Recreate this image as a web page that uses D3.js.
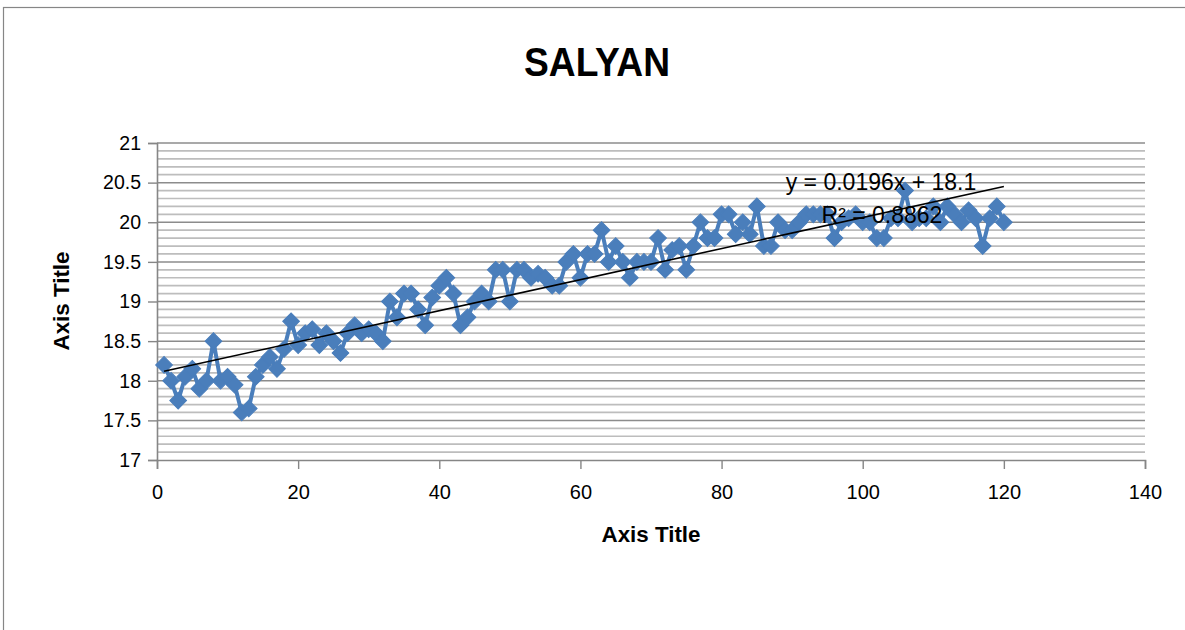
<!DOCTYPE html>
<html>
<head>
<meta charset="utf-8">
<script src="https://cdn.jsdelivr.net/npm/d3@7"></script>
<style>
  html, body { margin: 0; padding: 0; background: #fff; }
  svg { display: block; }
  text { font-family: "Liberation Sans", Arial, sans-serif; fill: #000; }
</style>
</head>
<body>
<svg id="chart" width="1185" height="630"></svg>
<script>
// ---- data ----
const chartTitle = "SALYAN";
const xAxisTitle = "Axis Title";
const yAxisTitle = "Axis Title";
const xTicks = [0, 20, 40, 60, 80, 100, 120, 140];
const yTicks = [17, 17.5, 18, 18.5, 19, 19.5, 20, 20.5, 21];
const xValues = [
  1,2,3,4,5,6,7,8,9,10,11,12,13,14,15,16,17,18,19,20,
  21,22,23,24,25,26,27,28,29,30,31,32,33,34,35,36,37,38,39,40,
  41,42,43,44,45,46,47,48,49,50,51,52,53,54,55,56,57,58,59,60,
  61,62,63,64,65,66,67,68,69,70,71,72,73,74,75,76,77,78,79,80,
  81,82,83,84,85,86,87,88,89,90,91,92,93,94,95,96,97,98,99,100,
  101,102,103,104,105,106,107,108,109,110,111,112,113,114,115,116,117,118,119,120
];
const yValues = [
  18.2,18.0,17.75,18.05,18.15,17.9,18.0,18.5,18.0,18.05,17.95,17.6,17.65,18.05,18.2,18.3,18.15,18.4,18.75,18.45,
  18.6,18.65,18.45,18.6,18.5,18.35,18.6,18.7,18.6,18.65,18.6,18.5,19.0,18.8,19.1,19.1,18.9,18.7,19.05,19.2,
  19.3,19.1,18.7,18.8,19.0,19.1,19.0,19.4,19.4,19.0,19.4,19.4,19.3,19.35,19.3,19.2,19.2,19.5,19.6,19.3,
  19.6,19.6,19.9,19.5,19.7,19.5,19.3,19.5,19.5,19.5,19.8,19.4,19.65,19.7,19.4,19.7,20.0,19.8,19.8,20.1,
  20.1,19.85,20.0,19.85,20.2,19.7,19.7,20.0,19.9,19.9,20.0,20.1,20.1,20.1,20.1,19.8,20.0,20.05,20.1,20.0,
  20.0,19.8,19.8,20.05,20.05,20.4,20.0,20.05,20.05,20.2,20.0,20.2,20.1,20.0,20.15,20.05,19.7,20.05,20.2,20.0
];
const trendSlope = 0.0196;
const trendIntercept = 18.1;
const trendLabel = "y = 0.0196x + 18.1";
const r2Label = "R\u00B2 = 0.8862";

// ---- layout ----
const svg = d3.select("#chart");
const plot = { left: 157, right: 1145, top: 143, bottom: 460 };

const x = d3.scaleLinear().domain([0, 140]).range([plot.left, plot.right]);
const y = d3.scaleLinear().domain([17, 21]).range([plot.bottom, plot.top]);

// chart area border
svg.append("rect")
  .attr("x", 3.5).attr("y", 7.5)
  .attr("width", 1300).attr("height", 800)
  .attr("fill", "#fff").attr("stroke", "#868686").attr("stroke-width", 1.2);

// minor gridlines every 0.1
const minorTicks = d3.range(170, 211).map(v => v / 10).filter(v => Math.abs(v * 2 - Math.round(v * 2)) > 1e-6);
svg.append("g").selectAll("line").data(minorTicks).join("line")
  .attr("x1", plot.left).attr("x2", plot.right)
  .attr("y1", d => y(d)).attr("y2", d => y(d))
  .attr("stroke", "#bdbdbd").attr("stroke-width", 1.7);

// major gridlines
svg.append("g").selectAll("line").data(yTicks.slice(1)).join("line")
  .attr("x1", plot.left).attr("x2", plot.right)
  .attr("y1", d => y(d)).attr("y2", d => y(d))
  .attr("stroke", "#8c8c8c").attr("stroke-width", 1.5);

// y axis
const yAxis = d3.axisLeft(y).tickValues(yTicks).tickSize(9).tickPadding(7)
  .tickFormat(d => String(d));
const gy = svg.append("g").attr("transform", `translate(${plot.left},0)`).call(yAxis);
gy.select(".domain").attr("stroke", "#868686").attr("stroke-width", 1.6);
gy.selectAll(".tick line").attr("stroke", "#868686").attr("stroke-width", 1.4);
gy.selectAll(".tick text").attr("font-size", 19.5).attr("font-family", "Liberation Sans, Arial, sans-serif").attr("fill", "#000");

// x axis
const xAxis = d3.axisBottom(x).tickValues(xTicks).tickSize(9).tickPadding(16)
  .tickFormat(d => String(d));
const gx = svg.append("g").attr("transform", `translate(0,${plot.bottom})`).call(xAxis);
gx.select(".domain").attr("stroke", "#868686").attr("stroke-width", 1.6);
gx.selectAll(".tick line").attr("stroke", "#868686").attr("stroke-width", 1.4);
gx.selectAll(".tick text").attr("font-size", 20).attr("font-family", "Liberation Sans, Arial, sans-serif").attr("fill", "#000");

// series line
const line = d3.line().x((d, i) => x(xValues[i])).y(d => y(d));
svg.append("path").datum(yValues)
  .attr("d", line)
  .attr("fill", "none").attr("stroke", "#4a7ebb").attr("stroke-width", 4)
  .attr("stroke-linejoin", "round");

// diamond markers
const diamond = d3.symbol().type(d3.symbolSquare).size(140);
svg.append("g").selectAll("path").data(yValues).join("path")
  .attr("d", diamond)
  .attr("transform", (d, i) => `translate(${x(xValues[i])},${y(d)}) rotate(45)`)
  .attr("fill", "#4a7ebb").attr("stroke", "#4a7ebb").attr("stroke-width", 1);

// trendline
const tx0 = d3.min(xValues), tx1 = d3.max(xValues);
svg.append("line")
  .attr("x1", x(tx0)).attr("y1", y(trendSlope * tx0 + trendIntercept))
  .attr("x2", x(tx1)).attr("y2", y(trendSlope * tx1 + trendIntercept))
  .attr("stroke", "#000").attr("stroke-width", 1.6);

// trendline labels
svg.append("text").attr("x", 881).attr("y", 190).attr("text-anchor", "middle")
  .attr("font-size", 23).text(trendLabel);
svg.append("text").attr("x", 882).attr("y", 223).attr("text-anchor", "middle")
  .attr("font-size", 23).text(r2Label);

// title
svg.append("text").attr("x", 597).attr("y", 76).attr("text-anchor", "middle")
  .attr("font-size", 40).attr("font-weight", "bold")
  .attr("textLength", 146).attr("lengthAdjust", "spacingAndGlyphs")
  .text(chartTitle);

// axis titles
svg.append("text").attr("x", 651).attr("y", 542).attr("text-anchor", "middle")
  .attr("font-size", 22).attr("font-weight", "bold")
  .attr("textLength", 99).attr("lengthAdjust", "spacingAndGlyphs")
  .text(xAxisTitle);
svg.append("text").attr("transform", "translate(69,301) rotate(-90)").attr("text-anchor", "middle")
  .attr("font-size", 22).attr("font-weight", "bold")
  .attr("textLength", 99).attr("lengthAdjust", "spacingAndGlyphs")
  .text(yAxisTitle);
</script>
</body>
</html>
